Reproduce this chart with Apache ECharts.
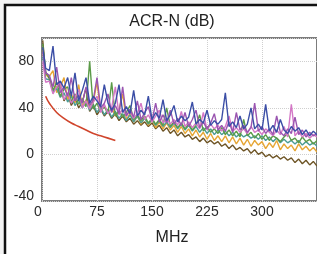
<!DOCTYPE html>
<html>
<head>
<meta charset="utf-8">
<title>ACR-N</title>
<script src="https://cdn.jsdelivr.net/npm/echarts/dist/echarts.min.js"></script>
<style>
  html, body { margin: 0; padding: 0; background: #f3f3f3; }
  #acrChart { width: 317px; height: 254px; }
</style>
</head>
<body>
<div id="acrChart"></div>
<script>
// frequency points (MHz), shared by all measured pairs
const freq = [1, 5, 10, 15, 20, 25, 30, 35, 40, 45,
  50, 55, 60, 65, 70, 75, 80, 85, 90, 95,
  100, 105, 110, 115, 120, 125, 130, 135, 140, 145,
  150, 155, 160, 165, 170, 175, 180, 185, 190, 195,
  200, 205, 210, 215, 220, 225, 230, 235, 240, 245,
  250, 255, 260, 265, 270, 275, 280, 285, 290, 295,
  300, 305, 310, 315, 320, 325, 330, 335, 340, 345,
  350, 355, 360, 365, 370, 375]

// measured ACR-N (dB), one list per pair
const blueVals = [92, 74, 72, 93, 60, 63, 57, 66, 50, 70,
  46, 55, 66, 44, 50, 46, 41, 60, 44, 38,
  44, 60, 36, 41, 35, 55, 33, 38, 34, 50,
  30, 36, 31, 47, 29, 34, 42, 28, 33, 29,
  32, 45, 26, 30, 27, 38, 25, 29, 26, 30,
  53, 24, 28, 23, 33, 22, 26, 40, 22, 26,
  21, 43, 20, 25, 19, 30, 21, 18, 24, 20,
  23, 17, 21, 16, 20, 17]
const purpleVals = [88, 70, 68, 58, 75, 53, 58, 50, 66, 46,
  51, 44, 58, 42, 47, 66, 40, 44, 52, 36,
  42, 35, 58, 33, 39, 32, 46, 30, 36, 41,
  29, 44, 28, 34, 27, 38, 26, 31, 25, 36,
  24, 30, 38, 23, 28, 22, 27, 35, 21, 25,
  20, 28, 19, 36, 21, 25, 19, 23, 44, 20,
  24, 18, 22, 17, 33, 19, 16, 22, 18, 32,
  17, 21, 15, 19, 16, 18]
const pinkVals = [80, 62, 63, 52, 58, 62, 47, 53, 44, 49,
  56, 40, 46, 39, 45, 50, 36, 43, 35, 40,
  58, 34, 39, 33, 37, 31, 35, 44, 30, 34,
  28, 33, 38, 27, 31, 26, 30, 25, 37, 24,
  28, 23, 27, 22, 36, 21, 26, 22, 25, 20,
  24, 33, 20, 23, 19, 22, 18, 24, 19, 21,
  17, 22, 19, 16, 21, 17, 24, 15, 43, 16,
  20, 15, 18, 14, 17, 15]
const greenVals = [95, 71, 66, 55, 62, 50, 56, 58, 45, 52,
  43, 48, 41, 80, 39, 44, 37, 41, 35, 62,
  33, 38, 32, 36, 42, 30, 34, 29, 33, 27,
  31, 26, 30, 25, 40, 24, 28, 23, 27, 22,
  26, 21, 25, 34, 20, 24, 19, 22, 18, 23,
  17, 21, 16, 20, 15, 30, 16, 19, 14, 18,
  13, 17, 12, 16, 14, 11, 15, 18, 12, 14,
  10, 15, 11, 13, 9, 12]
const tealVals = [84, 65, 64, 54, 57, 49, 53, 45, 50, 42,
  47, 40, 45, 38, 43, 36, 41, 34, 39, 32,
  37, 31, 35, 29, 34, 28, 33, 27, 31, 26,
  30, 25, 29, 24, 28, 23, 27, 22, 26, 21,
  25, 20, 24, 19, 23, 18, 22, 17, 21, 17,
  20, 16, 19, 15, 18, 15, 17, 14, 16, 13,
  16, 12, 15, 11, 14, 10, 13, 10, 12, 9,
  12, 8, 11, 8, 10, 7]
const orangeVals = [90, 68, 67, 72, 53, 58, 66, 47, 52, 44,
  60, 41, 47, 39, 45, 62, 37, 42, 35, 40,
  33, 38, 52, 30, 35, 28, 33, 26, 32, 25,
  30, 23, 28, 22, 27, 21, 25, 19, 24, 18,
  22, 16, 21, 15, 19, 13, 18, 12, 16, 11,
  16, 10, 15, 9, 14, 8, 13, 7, 12, 8,
  11, 5, 10, 6, 12, 4, 9, 5, 8, 3,
  9, 4, 7, 3, 6, 2]
const brownVals = [98, 70, 65, 54, 58, 60, 46, 52, 42, 48,
  40, 45, 57, 37, 42, 34, 39, 33, 37, 31,
  35, 29, 33, 28, 31, 26, 29, 25, 28, 24,
  27, 22, 25, 20, 23, 18, 21, 16, 19, 15,
  17, 13, 15, 11, 14, 10, 12, 9, 11, 7,
  9, 5, 8, 4, 6, 3, 5, 1, 4, 0,
  2, -2, 0, -3, -1, -4, -2, -5, -3, -7,
  -4, -8, -5, -9, -6, -10]

// limit line
const limitFreq = [5, 10, 20, 30, 40, 50, 60, 70, 80, 90, 100]
const limitVals = [50, 44, 36, 31, 27, 24, 21, 18, 16, 14, 12]

// axis ticks
const xTicks = { min: 0, max: 375, step: 75 }
const yTicks = { min: -40, max: 100, step: 40 }

let chart = echarts.init(document.getElementById('acrChart'))

function pairs (xs, ys) {
  return xs.map((x, i) => [x, ys[i]])
}

function lineSeries (vals, color, z) {
  return {
    type: 'line',
    data: pairs(freq, vals),
    symbol: 'none',
    z: z,
    lineStyle: { color: color, width: 1.4 }
  }
}

const labelFont = { fontFamily: 'Liberation Sans', fontSize: 14, color: '#2a2a2a' }

chart.setOption({
  animation: false,
  backgroundColor: '#f3f3f3',
  graphic: [
    { // outer frame
      type: 'rect',
      z: -10,
      shape: { x: 5, y: 5, width: 400, height: 300 },
      style: { fill: '#ffffff', stroke: '#111111', lineWidth: 2.5 }
    },
    {
      type: 'text',
      x: 172,
      y: 22,
      style: { text: 'ACR-N (dB)', fontFamily: 'Liberation Sans', fontSize: 16, fill: '#222', align: 'center', verticalAlign: 'middle' }
    },
    {
      type: 'text',
      x: 172,
      y: 238,
      style: { text: 'MHz', fontFamily: 'Liberation Sans', fontSize: 16, fill: '#222', align: 'center', verticalAlign: 'middle' }
    }
  ],
  grid: {
    left: 42,
    top: 38,
    width: 298,
    height: 163,
    show: true,
    backgroundColor: '#ffffff',
    borderColor: '#7c7c7c',
    borderWidth: 2
  },
  xAxis: {
    type: 'value',
    min: xTicks.min,
    max: xTicks.max,
    interval: xTicks.step,
    axisLine: { show: false },
    axisTick: { show: false },
    axisLabel: Object.assign({
      margin: 4,
      showMaxLabel: false,
      formatter: v => v === 0 ? '{z|0}' : String(v),
      rich: { z: Object.assign({ padding: [0, 8, 0, 0] }, labelFont) }
    }, labelFont),
    splitLine: { lineStyle: { color: '#cfcfcf', type: 'dotted', width: 1 } }
  },
  yAxis: {
    type: 'value',
    min: yTicks.min,
    max: yTicks.max,
    interval: yTicks.step,
    axisLine: { show: false },
    axisTick: { show: false },
    axisLabel: Object.assign({
      margin: 8,
      showMaxLabel: false,
      formatter: v => v === -40 ? '{m|-40}' : String(v),
      rich: { m: Object.assign({ padding: [0, 0, 10, 0] }, labelFont) }
    }, labelFont),
    splitLine: { lineStyle: { color: '#cfcfcf', type: 'dotted', width: 1 } }
  },
  series: [
    lineSeries(brownVals, '#6e5526', 2),
    lineSeries(orangeVals, '#e6a634', 3),
    lineSeries(tealVals, '#4c9c95', 4),
    lineSeries(greenVals, '#5b9a48', 5),
    lineSeries(pinkVals, '#d478c6', 6),
    lineSeries(purpleVals, '#9a55b0', 7),
    lineSeries(blueVals, '#3b4ea6', 8),
    {
      type: 'line',
      data: pairs(limitFreq, limitVals),
      symbol: 'none',
      smooth: true,
      z: 9,
      lineStyle: { color: '#d0452c', width: 1.6 }
    }
  ]
})

window.addEventListener('resize', () => chart.resize())
</script>
</body>
</html>
